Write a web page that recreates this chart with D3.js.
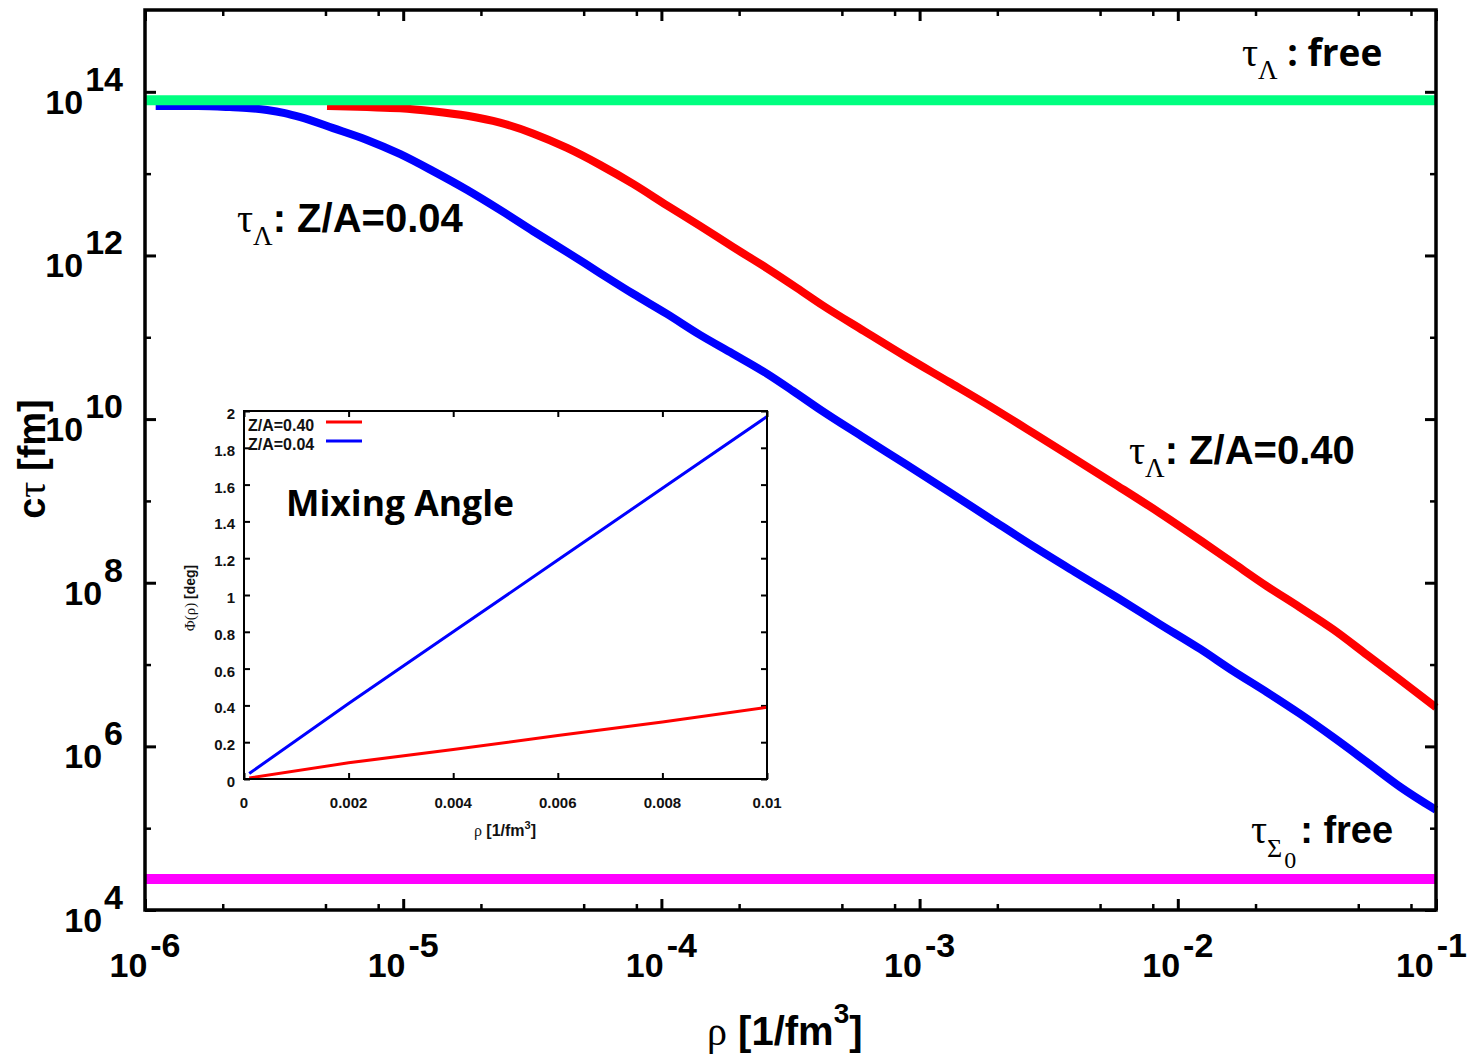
<!DOCTYPE html>
<html>
<head>
<meta charset="utf-8">
<script src="https://cdn.jsdelivr.net/npm/d3@7"></script>
<style>
  html, body { margin: 0; padding: 0; background: #fff; }
  svg { display: block; }
</style>
</head>
<body>
<svg id="chart" width="1470" height="1055"></svg>
<script>
// ---------- DATA ----------
// Main plot: c*tau [fm] vs rho [1/fm^3] (log-log)
const rhoZA004 = [1.1e-6, 1.6e-6, 2.13e-6, 2.55e-6, 2.97e-6, 3.48e-6, 4.0e-6, 5.35e-6, 7.2e-6, 9.7e-6, 1.3e-5, 1.77e-5, 2.37e-5,
  3.18e-5, 4.31e-5, 5.78e-5, 7.77e-5, 1.05e-4, 1.41e-4, 1.89e-4, 2.56e-4, 3.24e-4, 4.19e-4,
  6.1e-4, 8.93e-4, 1.3e-3, 1.89e-3, 2.75e-3, 4.0e-3, 5.86e-3, 8.53e-3, 1.22e-2, 1.64e-2,
  2.21e-2, 2.97e-2, 3.99e-2, 5.41e-2, 7.26e-2, 1.0e-1];
const ctauZA004 = [6.7e13, 6.7e13, 6.5e13, 6.3e13, 6.0e13, 5.5e13, 4.9e13, 3.6e13, 2.6e13, 1.74e13, 1.08e13, 6.3e12, 3.6e12,
  1.99e12, 1.10e12, 6.1e11, 3.4e11, 1.93e11, 1.07e11, 6.3e10, 3.6e10, 2.2e10, 1.26e10,
  5.9e9, 2.75e9, 1.29e9, 6.0e8, 2.8e8, 1.35e8, 6.5e7, 3.1e7, 1.55e7, 8.3e6,
  4.6e6, 2.5e6, 1.3e6, 6.4e5, 3.2e5, 1.67e5];

const rhoZA040 = [5.07e-6, 7.24e-6, 9.73e-6, 1.3e-5, 1.77e-5, 2.37e-5, 3.18e-5, 4.31e-5, 5.78e-5, 7.77e-5,
  1.05e-4, 1.41e-4, 1.89e-4, 2.56e-4, 3.35e-4, 4.19e-4, 6.1e-4, 8.93e-4, 1.3e-3, 1.89e-3,
  2.75e-3, 4.0e-3, 5.86e-3, 8.53e-3, 1.24e-2, 1.64e-2, 2.21e-2, 2.97e-2, 3.99e-2, 5.41e-2,
  7.26e-2, 1.0e-1];
const ctauZA040 = [6.7e13, 6.5e13, 6.3e13, 5.8e13, 5.1e13, 4.2e13, 3.1e13, 2.06e13, 1.28e13, 7.5e12,
  4.1e12, 2.3e12, 1.27e12, 7.0e11, 4.0e11, 2.48e11, 1.19e11, 5.7e10, 2.84e10, 1.41e10,
  6.8e9, 3.25e9, 1.52e9, 7.1e8, 3.2e8, 1.74e8, 9.1e7, 5.0e7, 2.7e7, 1.31e7,
  6.5e6, 3.0e6];

const ctauLambdaFree = 7.9e13;
const ctauSigma0Free = 2.4e4;

const xMajorTicks = [1e-6, 1e-5, 1e-4, 1e-3, 1e-2, 1e-1];
const xTickExponents = ["-6", "-5", "-4", "-3", "-2", "-1"];
const yMajorTicks = [1e4, 1e6, 1e8, 1e10, 1e12, 1e14];
const yTickExponents = ["4", "6", "8", "10", "12", "14"];
const yMinorTicks = [1e5, 1e7, 1e9, 1e11, 1e13];
const xMinorMultipliers = [2, 5, 8];

// Inset: mixing angle Phi(rho) [deg] vs rho
const rhoInset = [0.0001, 0.002, 0.004, 0.006, 0.008, 0.01];
const phiZA040 = [0.005, 0.088, 0.16, 0.236, 0.31, 0.39];
const phiZA004 = [0.03, 0.41, 0.80, 1.19, 1.58, 1.97];
const insetXTicks = [0, 0.002, 0.004, 0.006, 0.008, 0.01];
const insetXTickLabels = ["0", "0.002", "0.004", "0.006", "0.008", "0.01"];
const insetYTicks = [0, 0.2, 0.4, 0.6, 0.8, 1, 1.2, 1.4, 1.6, 1.8, 2];
const insetYTickLabels = ["0", "0.2", "0.4", "0.6", "0.8", "1", "1.2", "1.4", "1.6", "1.8", "2"];
const legendLabels = ["Z/A=0.40", "Z/A=0.04"];

// ---------- DRAW ----------
const SANS = "'Liberation Sans', Arial, sans-serif";
const SERIF = "'Liberation Serif', 'Times New Roman', serif";
const svg = d3.select("#chart");

const L = 145, R = 1436, T = 10, B = 910;
const x = d3.scaleLog().domain([1e-6, 1e-1]).range([L, R]);
const y = d3.scaleLog().domain([1e4, 1e15]).range([B, T]);

const xMinorTicks = [];
for (let e = -6; e < -1; e++) xMinorMultipliers.forEach(m => xMinorTicks.push(m * Math.pow(10, e)));

function styleAxis(g, w) {
  g.select(".domain").remove();
  g.selectAll(".tick line").attr("stroke", "#000").attr("stroke-width", w);
  g.selectAll(".tick text").remove();
}
function addAxes(major, minor, axisFn, transform, scale) {
  svg.append("g").attr("transform", transform)
    .call(axisFn(scale).tickValues(major).tickSizeInner(-11).tickSizeOuter(0).tickFormat(""))
    .call(g => styleAxis(g, 3));
  svg.append("g").attr("transform", transform)
    .call(axisFn(scale).tickValues(minor).tickSizeInner(-6).tickSizeOuter(0).tickFormat(""))
    .call(g => styleAxis(g, 2.5));
}
addAxes(xMajorTicks, xMinorTicks, d3.axisBottom, `translate(0,${B})`, x);
addAxes(xMajorTicks, xMinorTicks, d3.axisTop, `translate(0,${T})`, x);
addAxes(yMajorTicks, yMinorTicks, d3.axisLeft, `translate(${L},0)`, y);
addAxes(yMajorTicks, yMinorTicks, d3.axisRight, `translate(${R},0)`, y);

const hline = d3.line().x(d => x(d[0])).y(d => y(d[1]));
const lineGen = d3.line().x(d => x(d[0])).y(d => y(d[1])).curve(d3.curveMonotoneX);

svg.append("path")
  .datum(rhoZA004.map((r, i) => [r, ctauZA004[i]]))
  .attr("d", lineGen).attr("fill", "none").attr("stroke", "#0000ff").attr("stroke-width", 8);
svg.append("path")
  .datum(rhoZA040.map((r, i) => [r, ctauZA040[i]]))
  .attr("d", lineGen).attr("fill", "none").attr("stroke", "#ff0000").attr("stroke-width", 8);

svg.append("path")
  .datum([[1e-6, ctauLambdaFree], [1e-1, ctauLambdaFree]])
  .attr("d", hline).attr("stroke", "#00ff80").attr("stroke-width", 10).attr("fill", "none");
svg.append("path")
  .datum([[1e-6, ctauSigma0Free], [1e-1, ctauSigma0Free]])
  .attr("d", hline).attr("stroke", "#ff00ff").attr("stroke-width", 10).attr("fill", "none");

// frame
svg.append("rect").attr("x", L).attr("y", T).attr("width", R - L).attr("height", B - T)
  .attr("fill", "none").attr("stroke", "#000").attr("stroke-width", 3.5);

// tick labels
const tickFont = 34;
xMajorTicks.forEach((v, i) => {
  const last = i === xMajorTicks.length - 1;
  const t = svg.append("text").attr("x", last ? 1467 : x(v)).attr("y", B + 67)
    .attr("text-anchor", last ? "end" : "middle").attr("font-family", SANS).attr("font-weight", "bold")
    .attr("font-size", tickFont).attr("fill", "#000");
  t.append("tspan").text("10");
  t.append("tspan").attr("dx", 3).attr("dy", -20).text(xTickExponents[i]);
});
yMajorTicks.forEach((v, i) => {
  const t = svg.append("text").attr("x", 123).attr("y", y(v) + 22)
    .attr("text-anchor", "end").attr("font-family", SANS).attr("font-weight", "bold")
    .attr("font-size", tickFont).attr("fill", "#000");
  t.append("tspan").text("10");
  t.append("tspan").attr("dx", 2).attr("dy", -23).text(yTickExponents[i]);
});

// axis titles
{
  const t = svg.append("text").attr("x", 707).attr("y", 1045)
    .attr("font-family", SANS).attr("font-weight", "bold").attr("font-size", 40).attr("fill", "#000");
  t.append("tspan").attr("font-family", SERIF).attr("font-weight", "normal").text("ρ");
  t.append("tspan").text(" [1/fm");
  t.append("tspan").attr("font-size", 28).attr("dy", -22).text("3");
  t.append("tspan").attr("dy", 22).text("]");
}
{
  const t = svg.append("text").attr("transform", "translate(45,459) rotate(-90)")
    .attr("text-anchor", "middle")
    .attr("font-family", SANS).attr("font-weight", "bold").attr("font-size", 38).attr("fill", "#000");
  t.append("tspan").text("c");
  t.append("tspan").attr("font-family", SERIF).attr("font-weight", "normal").attr("font-size", 40).text("τ");
  t.append("tspan").text(" [fm]");
}

// annotations
function tauLabel(xp, yp, sub, rest, fontFam, size) {
  const t = svg.append("text").attr("x", xp).attr("y", yp)
    .attr("font-family", fontFam).attr("font-weight", "bold").attr("font-size", size).attr("fill", "#000");
  t.append("tspan").attr("font-family", SERIF).attr("font-weight", "normal").attr("font-size", 40).text("τ");
  t.append("tspan").attr("font-family", SERIF).attr("font-weight", "normal").attr("font-size", 27).attr("dy", 13).text(sub);
  t.append("tspan").attr("dy", -13).text(rest);
  return t;
}
tauLabel(237, 232, "Λ", ": Z/A=0.04", SANS, 40);
tauLabel(1129, 464, "Λ", ": Z/A=0.40", SANS, 40);
tauLabel(1242, 66, "Λ", " : free", "'Open Sans', sans-serif", 37);
{
  const t = svg.append("text").attr("x", 1251).attr("y", 843)
    .attr("font-family", SANS).attr("font-weight", "bold").attr("font-size", 38).attr("fill", "#000");
  t.append("tspan").attr("font-family", SERIF).attr("font-weight", "normal").attr("font-size", 40).text("τ");
  t.append("tspan").attr("font-family", SERIF).attr("font-weight", "normal").attr("font-size", 26).attr("dy", 14).text("Σ");
  t.append("tspan").attr("font-family", SERIF).attr("font-weight", "normal").attr("font-size", 24).attr("dx", 2).attr("dy", 11).text("0");
  t.append("tspan").attr("dx", 4).attr("dy", -25).text(": free");
}

// ---------- INSET ----------
const iL = 244, iR = 767, iT = 411, iB = 779;
const xi = d3.scaleLinear().domain([0, 0.01]).range([iL, iR]);
const yi = d3.scaleLinear().domain([0, 2]).range([iB, iT]);
const inset = svg.append("g");
inset.append("rect").attr("x", iL).attr("y", iT).attr("width", iR - iL).attr("height", iB - iT)
  .attr("fill", "#fff");

function styleInset(g) {
  g.select(".domain").remove();
  g.selectAll(".tick line").attr("stroke", "#000").attr("stroke-width", 2);
  g.selectAll(".tick text").remove();
}
inset.append("g").attr("transform", `translate(0,${iB})`)
  .call(d3.axisBottom(xi).tickValues(insetXTicks).tickSizeInner(-6).tickSizeOuter(0)).call(styleInset);
inset.append("g").attr("transform", `translate(0,${iT})`)
  .call(d3.axisTop(xi).tickValues(insetXTicks).tickSizeInner(-6).tickSizeOuter(0)).call(styleInset);
inset.append("g").attr("transform", `translate(${iL},0)`)
  .call(d3.axisLeft(yi).tickValues(insetYTicks).tickSizeInner(-6).tickSizeOuter(0)).call(styleInset);
inset.append("g").attr("transform", `translate(${iR},0)`)
  .call(d3.axisRight(yi).tickValues(insetYTicks).tickSizeInner(-6).tickSizeOuter(0)).call(styleInset);

const il = d3.line().x(d => xi(d[0])).y(d => yi(d[1]));
inset.append("path").datum(rhoInset.map((r, i) => [r, phiZA040[i]]))
  .attr("d", il).attr("fill", "none").attr("stroke", "#ff0000").attr("stroke-width", 3);
inset.append("path").datum(rhoInset.map((r, i) => [r, phiZA004[i]]))
  .attr("d", il).attr("fill", "none").attr("stroke", "#0000ff").attr("stroke-width", 3);

inset.append("rect").attr("x", iL).attr("y", iT).attr("width", iR - iL).attr("height", iB - iT)
  .attr("fill", "none").attr("stroke", "#000").attr("stroke-width", 2);

inset.selectAll("text.ixl").data(insetXTicks).join("text").attr("class", "ixl")
  .attr("x", d => xi(d)).attr("y", iB + 29).attr("text-anchor", "middle")
  .attr("font-family", SANS).attr("font-weight", "bold").attr("font-size", 15).attr("fill", "#111")
  .text((d, i) => insetXTickLabels[i]);
inset.selectAll("text.iyl").data(insetYTicks).join("text").attr("class", "iyl")
  .attr("x", iL - 9).attr("y", d => yi(d) + 8).attr("text-anchor", "end")
  .attr("font-family", SANS).attr("font-weight", "bold").attr("font-size", 15).attr("fill", "#111")
  .text((d, i) => insetYTickLabels[i]);

// inset legend
const legendColors = ["#ff0000", "#0000ff"];
legendLabels.forEach((lab, i) => {
  const yy = 431 + i * 19;
  inset.append("text").attr("x", 248).attr("y", yy)
    .attr("font-family", SANS).attr("font-weight", "bold").attr("font-size", 16).attr("fill", "#111").text(lab);
  inset.append("line").attr("x1", 326).attr("x2", 362).attr("y1", yy - 9).attr("y2", yy - 9)
    .attr("stroke", legendColors[i]).attr("stroke-width", 3);
});

// inset axis titles
{
  const t = inset.append("text").attr("x", 505).attr("y", 836).attr("text-anchor", "middle")
    .attr("font-family", SANS).attr("font-weight", "bold").attr("font-size", 16).attr("fill", "#111");
  t.append("tspan").attr("font-family", SERIF).attr("font-weight", "normal").text("ρ");
  t.append("tspan").text(" [1/fm");
  t.append("tspan").attr("font-size", 11).attr("dy", -7).text("3");
  t.append("tspan").attr("dy", 7).text("]");
}
{
  const t = inset.append("text").attr("transform", "translate(195,598) rotate(-90)").attr("text-anchor", "middle")
    .attr("font-family", SANS).attr("font-weight", "bold").attr("font-size", 14).attr("fill", "#111");
  t.append("tspan").attr("font-family", SERIF).attr("font-weight", "normal").attr("font-size", 15).text("Φ(ρ)");
  t.append("tspan").text(" [deg]");
}
inset.append("text").attr("x", 286).attr("y", 516)
  .attr("font-family", "'Open Sans', sans-serif").attr("font-weight", "bold").attr("font-size", 35.5)
  .attr("fill", "#000").text("Mixing Angle");
</script>
</body>
</html>
